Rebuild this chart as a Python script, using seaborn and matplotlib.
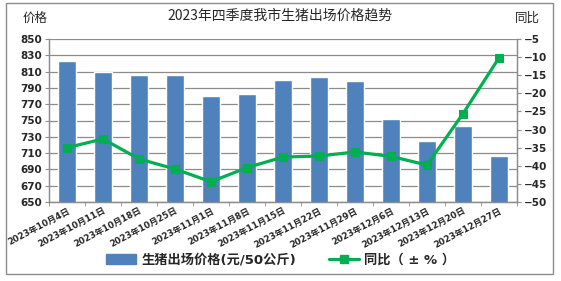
import numpy as np
import pandas as pd
import matplotlib
matplotlib.use("Agg")
import matplotlib.pyplot as plt
from matplotlib.patches import Rectangle, Patch
from matplotlib.lines import Line2D
import seaborn as sns

dates = ["2023年10月4日", "2023年10月11日", "2023年10月18日", "2023年10月25日",
         "2023年11月1日", "2023年11月8日", "2023年11月15日", "2023年11月22日",
         "2023年11月29日", "2023年12月6日", "2023年12月13日", "2023年12月20日",
         "2023年12月27日"]
price = [823, 810, 806, 806, 780, 782, 800, 803, 798, 752, 725, 743, 707]
yoy = [-35.0, -32.6, -38.1, -40.9, -44.4, -40.5, -37.6, -37.3, -36.2, -37.4, -39.8, -25.6, -10.2]
left_ticks = list(range(650, 851, 20))
right_ticks = list(range(-50, -4, 5))

title = "2023年四季度我市生猪出场价格趋势"
bar_label = "生猪出场价格(元/50公斤)"
line_label = "同比（ ± % ）"

sns.set_style("white")
plt.rcParams['font.family'] = ['DejaVu Sans', 'Noto Sans CJK SC']

BLUE = "#4F81BD"
GREEN = "#00B050"
GRID = "#8C8C8C"

df = pd.DataFrame({"date": dates, "price": price, "yoy": yoy, "pos": np.arange(len(dates))})

fig = plt.figure(figsize=(5.61, 2.81), dpi=100)
ax = fig.add_axes([49/561, 1-202/281, (517-49)/561, (202-39)/281])

sns.barplot(data=df, x="date", y="price", color=BLUE, width=0.52, saturation=1, ax=ax, zorder=2)
ax.set_ylim(650, 850)
ax.set_xlim(-0.5, len(dates)-0.5)
ax.set_yticks(left_ticks)
ax.yaxis.grid(True, color=GRID, lw=0.9, zorder=0)
ax.set_axisbelow(True)
ax.set_xlabel("")
ax.set_ylabel("")

ax2 = ax.twinx()
sns.lineplot(data=df, x="pos", y="yoy", color=GREEN, lw=2.3, marker="s", markersize=6,
             markeredgecolor=GREEN, ax=ax2, zorder=3)
ax2.set_ylim(-50, -5)
ax2.set_yticks(right_ticks)
ax2.set_xlim(-0.5, len(dates)-0.5)
ax2.set_xlabel("")
ax2.set_ylabel("")

for a in (ax, ax2):
    a.spines["top"].set_visible(False)
    for s in ["left", "right", "bottom"]:
        a.spines[s].set_color(GRID)
        a.spines[s].set_linewidth(0.9)

ax.tick_params(axis="y", labelsize=7.5, length=3, color=GRID, pad=2, left=True)
ax2.tick_params(axis="y", labelsize=7.5, length=3, color=GRID, pad=2, right=True)
for lab in ax.get_yticklabels() + ax2.get_yticklabels():
    lab.set_fontweight("bold")

ax.set_xticks(np.arange(len(dates)))
ax.set_xticks(np.arange(-0.5, len(dates), 1), minor=True)
ax.tick_params(axis="x", which="major", length=0, pad=3)
ax.tick_params(axis="x", which="minor", length=3, color=GRID, bottom=True)
ax.set_xticklabels(dates, rotation=28, ha="right", rotation_mode="anchor",
                   fontsize=6.3, fontweight="bold")

fig.text(0.5, 1-16/281, title, ha="center", va="center", fontsize=10,
         family=["Noto Sans CJK SC", "DejaVu Sans"])
fig.text(35/561, 1-18/281, "价格", ha="center", va="center", fontsize=9,
         family=["Noto Sans CJK SC", "DejaVu Sans"])
fig.text(527/561, 1-18/281, "同比", ha="center", va="center", fontsize=9,
         family=["Noto Sans CJK SC", "DejaVu Sans"])

handles = [Patch(facecolor=BLUE, edgecolor=BLUE),
           Line2D([0], [0], color=GREEN, lw=2.3, marker="s", markersize=6)]
fig.legend(handles, [bar_label, line_label], loc="center", bbox_to_anchor=(0.5, 1-260/281),
           ncol=2, frameon=False, handlelength=2.3, columnspacing=2.5, handletextpad=0.4,
           prop={"size": 9.5, "weight": "bold", "family": ["DejaVu Sans", "Noto Sans CJK SC"]})

fig.patches.append(Rectangle((6/561, 1-274/281), (553-6)/561, (274-3)/281,
                             transform=fig.transFigure, fill=False, edgecolor="#8C8C8C", lw=1))

fig.savefig("out.png", dpi=100)
